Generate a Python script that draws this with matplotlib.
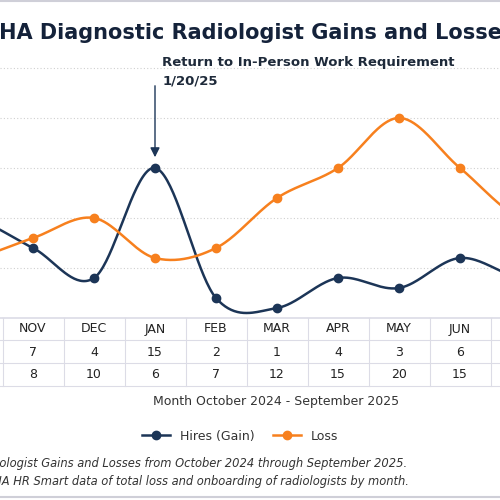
import numpy as np
import matplotlib.pyplot as plt

months = ['OCT', 'NOV', 'DEC', 'JAN', 'FEB', 'MAR', 'APR', 'MAY', 'JUN', 'JUL']
hires = [10, 7, 4, 15, 2, 1, 4, 3, 6, 4]
losses = [6, 8, 10, 6, 7, 12, 15, 20, 15, 10]
navy = '#1c3557'
orange = '#f7801e'


def smooth(y, n=40):
    # catmull-rom through the points
    y = np.asarray(y, float)
    p = np.concatenate([[y[0]], y, [y[-1]]])
    xs, ys = [], []
    for i in range(len(y) - 1):
        t = np.linspace(0, 1, n, endpoint=False)
        p0, p1, p2, p3 = p[i], p[i + 1], p[i + 2], p[i + 3]
        v = 0.5 * (2 * p1 + (-p0 + p2) * t + (2 * p0 - 5 * p1 + 4 * p2 - p3) * t ** 2
                   + (-p0 + 3 * p1 - 3 * p2 + p3) * t ** 3)
        xs.append(i + t)
        ys.append(v)
    xs.append([len(y) - 1])
    ys.append([y[-1]])
    return np.concatenate(xs), np.concatenate(ys)


fig = plt.figure(figsize=(5, 5), dpi=100)
fig.patch.set_facecolor('white')

# pixel-mapped axes for the chart area
ax = fig.add_axes([0, 0.364, 1, 0.556])
x0 = 1 - 33 / 61
ax.set_xlim(x0, x0 + 500 / 61)
ax.set_ylim(0, 27.8)
ax.axis('off')
for g in [5, 10, 15, 20, 25]:
    ax.axhline(g, color='#d0d0d0', lw=0.8, ls=(0, (1, 2)), zorder=0)

idx = np.arange(len(months))
sx, sy = smooth(hires)
ax.plot(sx, sy, color=navy, lw=1.8)
ax.plot(idx, hires, 'o', color=navy, ms=6, label='Hires (Gain)')
sx, sy = smooth(losses)
ax.plot(sx, sy, color=orange, lw=1.8)
ax.plot(idx, losses, 'o', color=orange, ms=6, label='Loss')

ax.annotate('', xy=(3, 15.8), xytext=(3, 23.5),
            arrowprops=dict(arrowstyle='-|>', color=navy, lw=1, mutation_scale=14))
ax.text(3.12, 24.6, 'Return to In-Person Work Requirement\n1/20/25', fontsize=9.5,
        fontweight='bold', color='#1e2a3a', va='center', linespacing=1.6)

# overlay axes in pixel coords for table and text
ov = fig.add_axes([0, 0, 1, 1])
ov.set_xlim(0, 500)
ov.set_ylim(500, 0)
ov.axis('off')
ov.axhline(1, color='#cfcfd8', lw=1.5)
ov.axhline(497, color='#cfcfd8', lw=1.5)
ov.text(-17, 33, 'VHA Diagnostic Radiologist Gains and Losses', fontsize=15,
        fontweight='bold', color='#14223a', va='center')

for yy in [318, 340, 363, 386]:
    ov.plot([0, 500], [yy, yy], color='#dcdce6', lw=1.2 if yy == 318 else 0.8)
for k in range(-1, 9):
    xx = 63.5 + 61 * k
    ov.plot([xx, xx], [318, 386], color='#dcdce6', lw=0.8)
for i, m in enumerate(months):
    xx = 33 + 61 * (i - 1)
    ov.text(xx, 329, m, ha='center', va='center', fontsize=9, color='#222')
    ov.text(xx, 352, str(hires[i]), ha='center', va='center', fontsize=9, color='#222')
    ov.text(xx, 375, str(losses[i]), ha='center', va='center', fontsize=9, color='#222')

ov.text(276, 402, 'Month October 2024 - September 2025', ha='center', va='center',
        fontsize=9, color='#333')
leg = ax.legend(loc='center', bbox_to_anchor=(0.48, -0.425), ncol=2, frameon=False,
                fontsize=9, handlelength=2.2, columnspacing=1.5)
for h in leg.legend_handles:
    h.set_linestyle('-')
    h.set_linewidth(1.8)
for t in leg.get_texts():
    t.set_color('#333')
ov.text(407, 463, 'Figure 1. VHA Diagnostic Radiologist Gains and Losses from October 2024 through September 2025.',
        ha='right', va='center', fontsize=8.3, style='italic', color='#333')
ov.text(409, 481, 'Source: VHA HR Smart data of total loss and onboarding of radiologists by month.',
        ha='right', va='center', fontsize=8.3, style='italic', color='#333')

fig.savefig('out.png', dpi=100)
